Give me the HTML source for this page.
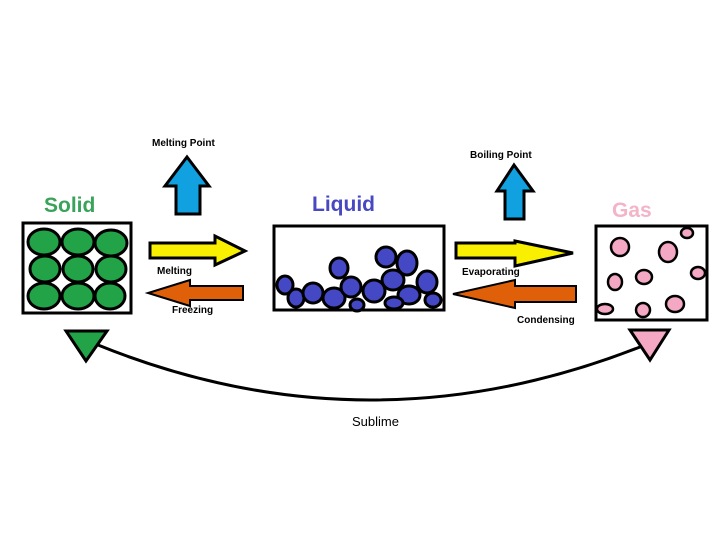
<!DOCTYPE html>
<html><head><style>html,body{margin:0;padding:0;background:#fff}svg{display:block}
text{font-family:"Comic Sans MS","Liberation Sans",sans-serif;font-weight:bold}</style></head>
<body>
<svg width="720" height="540" viewBox="0 0 720 540" xmlns="http://www.w3.org/2000/svg">
<rect width="720" height="540" fill="#fff"/>
<text x="152" y="146" font-size="10" fill="#000">Melting Point</text>
<text x="470" y="158" font-size="10" fill="#000">Boiling Point</text>
<text x="44" y="212" font-size="21" fill="#3aa35a">Solid</text>
<text x="312" y="211" font-size="21" fill="#4848c0">Liquid</text>
<text x="612" y="217" font-size="21" fill="#f4b4c8">Gas</text>
<text x="157" y="274" font-size="10" fill="#000">Melting</text>
<text x="172" y="313" font-size="10" fill="#000">Freezing</text>
<text x="462" y="275" font-size="10" fill="#000">Evaporating</text>
<text x="517" y="323" font-size="10" fill="#000">Condensing</text>
<text x="352" y="426" font-size="13" fill="#000" style="font-weight:normal">Sublime</text>

<polygon points="187,157 209,186 200,186 200,214 176,214 176,186 165,186" fill="#11a0e0" stroke="#000" stroke-width="3"/>
<polygon points="514,165 533,191 524,191 524,219 505,219 505,191 497,191" fill="#11a0e0" stroke="#000" stroke-width="3"/>

<polygon points="150,243 215,243 215,236 245,251 215,265 215,258 150,258" fill="#f8f000" stroke="#000" stroke-width="3"/>
<polygon points="456,243 515,243 515,241 573,253 515,266 515,258 456,258" fill="#f8f000" stroke="#000" stroke-width="3"/>
<polygon points="243,286 190,286 190,280 148,293 190,306 190,300 243,300" fill="#e0600a" stroke="#000" stroke-width="2"/>
<polygon points="576,286 515,286 515,280 453,294 515,308 515,302 576,302" fill="#e0600a" stroke="#000" stroke-width="2"/>

<rect x="23" y="223" width="108" height="90" fill="#fff" stroke="#000" stroke-width="3"/>
<g fill="#22a347" stroke="#000" stroke-width="3">
<ellipse cx="44" cy="242" rx="16" ry="13"/><ellipse cx="78" cy="242" rx="16" ry="13"/><ellipse cx="111" cy="243" rx="16" ry="13"/>
<ellipse cx="45" cy="269" rx="15" ry="13"/><ellipse cx="78" cy="269" rx="15" ry="13"/><ellipse cx="111" cy="269" rx="15" ry="13"/>
<ellipse cx="44" cy="296" rx="16" ry="13"/><ellipse cx="78" cy="296" rx="16" ry="13"/><ellipse cx="110" cy="296" rx="15" ry="13"/>
</g>

<rect x="274" y="226" width="170" height="84" fill="#fff" stroke="#000" stroke-width="3"/>
<g fill="#4448c4" stroke="#000" stroke-width="3">
<ellipse cx="285" cy="285" rx="8" ry="9"/><ellipse cx="296" cy="298" rx="8" ry="9"/>
<ellipse cx="313" cy="293" rx="10" ry="10"/><ellipse cx="334" cy="298" rx="11" ry="10"/>
<ellipse cx="339" cy="268" rx="9" ry="10"/><ellipse cx="351" cy="287" rx="10" ry="10"/>
<ellipse cx="357" cy="305" rx="7" ry="6"/><ellipse cx="374" cy="291" rx="11" ry="11"/>
<ellipse cx="386" cy="257" rx="10" ry="10"/><ellipse cx="407" cy="263" rx="10" ry="12"/>
<ellipse cx="393" cy="280" rx="11" ry="10"/><ellipse cx="409" cy="295" rx="11" ry="9"/>
<ellipse cx="427" cy="282" rx="10" ry="11"/><ellipse cx="394" cy="303" rx="9" ry="6"/>
<ellipse cx="433" cy="300" rx="8" ry="7"/>
</g>

<rect x="596" y="226" width="111" height="94" fill="#fff" stroke="#000" stroke-width="3"/>
<g fill="#f4a8c4" stroke="#000" stroke-width="2.5">
<ellipse cx="620" cy="247" rx="9" ry="9"/><ellipse cx="668" cy="252" rx="9" ry="10"/>
<ellipse cx="687" cy="233" rx="6" ry="5"/><ellipse cx="698" cy="273" rx="7" ry="6"/>
<ellipse cx="615" cy="282" rx="7" ry="8"/><ellipse cx="644" cy="277" rx="8" ry="7"/>
<ellipse cx="605" cy="309" rx="8" ry="5"/><ellipse cx="643" cy="310" rx="7" ry="7"/>
<ellipse cx="675" cy="304" rx="9" ry="8"/>
</g>

<path d="M98,345 Q370,455 645,345" fill="none" stroke="#000" stroke-width="3"/>
<polygon points="66,331 107,331 86,361" fill="#22a347" stroke="#000" stroke-width="3"/>
<polygon points="630,330 669,330 650,360" fill="#f4a8c4" stroke="#000" stroke-width="3"/>
</svg>
</body></html>
